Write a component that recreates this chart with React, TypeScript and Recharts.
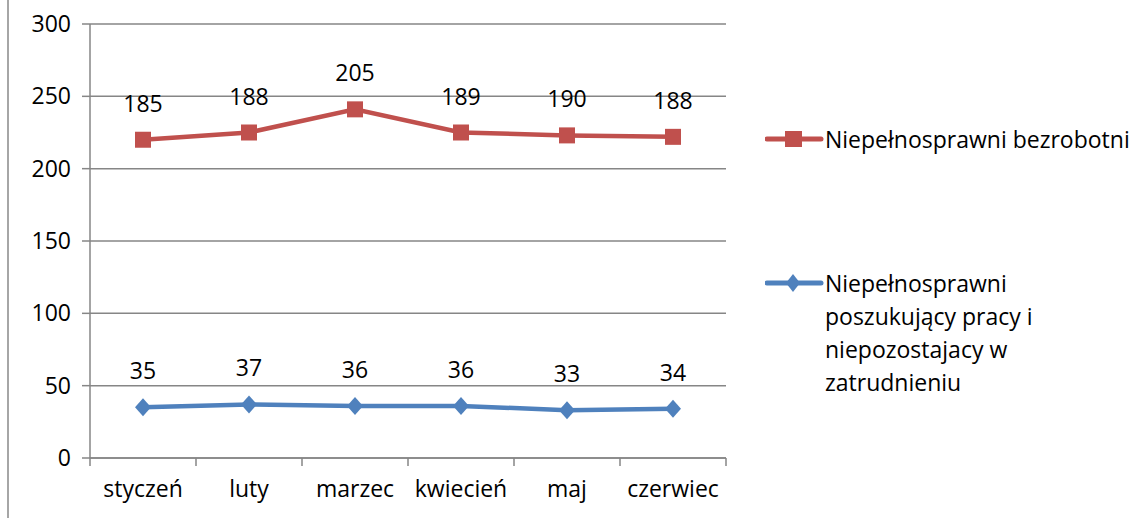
import React from 'react'
import { LineChart, Line, XAxis, YAxis, CartesianGrid, LabelList } from 'recharts'

const MONTHS = ['styczeń', 'luty', 'marzec', 'kwiecień', 'maj', 'czerwiec']
const BEZROBOTNI = [185, 188, 205, 189, 190, 188]
const POSZUKUJACY = [35, 37, 36, 36, 33, 34]
const Y_TICKS = [0, 50, 100, 150, 200, 250, 300]
const BOUNDARY_TICKS = [0, 1, 2, 3, 4, 5, 6]
const CENTER_TICKS = [0.5, 1.5, 2.5, 3.5, 4.5, 5.5]

const NAME_RED = 'Niepełnosprawni bezrobotni'
const BLUE_LINES = ['Niepełnosprawni', 'poszukujący pracy i', 'niepozostajacy w', 'zatrudnieniu']

const RED = '#C0504D'
const BLUE = '#4F81BD'
const GRID = '#868686'
const FONT = '"Open Sans", sans-serif'
const FS = 23

// stacked line chart: red series sits on top of the blue one
const data = MONTHS.map((m, i) => ({
  month: m,
  pos: i + 0.5,
  blue: POSZUKUJACY[i],
  red: BEZROBOTNI[i],
  redStacked: BEZROBOTNI[i] + POSZUKUJACY[i],
}))

const SquareDot = (props: any) => {
  const { cx, cy } = props
  if (cx == null || cy == null) return null
  return <rect x={cx - 8} y={cy - 8} width={16} height={16} fill={RED} />
}

const DiamondDot = (props: any) => {
  const { cx, cy } = props
  if (cx == null || cy == null) return null
  return <polygon points={`${cx},${cy - 9} ${cx + 8},${cy} ${cx},${cy + 9} ${cx - 8},${cy}`} fill={BLUE} />
}

const ValueLabel = (props: any) => {
  const { x, y, value } = props
  return (
    <text x={x} y={y - 37} textAnchor="middle" dominantBaseline="central" fontSize={FS} fontFamily={FONT} fill="#000">
      {value}
    </text>
  )
}

const LegendBox = () => (
  <div style={{ position: 'absolute', left: 765, top: 123, fontFamily: FONT, fontSize: FS, color: '#000' }}>
    <div style={{ position: 'absolute', left: 0, top: 0, display: 'flex', alignItems: 'center', height: 32 }}>
      <svg width={60} height={20} style={{ display: 'block' }}>
        <line x1={2} y1={10} x2={56} y2={10} stroke={RED} strokeWidth={5} strokeLinecap="round" />
        <rect x={20} y={2} width={17} height={16} fill={RED} />
      </svg>
      <span style={{ whiteSpace: 'nowrap' }}>{NAME_RED}</span>
    </div>
    <div style={{ position: 'absolute', left: 0, top: 144, display: 'flex', alignItems: 'flex-start' }}>
      <svg width={60} height={32} style={{ display: 'block' }}>
        <line x1={2} y1={16} x2={56} y2={16} stroke={BLUE} strokeWidth={5} strokeLinecap="round" />
        <polygon points="28,7 35,16 28,25 21,16" fill={BLUE} />
      </svg>
      <div style={{ lineHeight: '33px' }}>
        {BLUE_LINES.map((l) => (
          <div key={l} style={{ whiteSpace: 'nowrap', height: 33 }}>{l}</div>
        ))}
      </div>
    </div>
  </div>
)

export default function App() {
  return (
    <div style={{ position: 'absolute', left: 0, top: 0, width: 1138, height: 518, background: '#fff', overflow: 'hidden' }}>
      <div style={{ position: 'absolute', left: 7, top: 0, width: 2, height: 518, background: '#a6a6a6' }} />
      <LineChart width={1138} height={518} data={data} margin={{ top: 24, right: 412, left: 0, bottom: 0 }}>
        <CartesianGrid vertical={false} stroke={GRID} strokeWidth={1.5} />
        {/* month names centred in each slot (declared first -> drawn further from the plot) */}
        <XAxis
          xAxisId="b"
          dataKey="pos"
          type="number"
          domain={[0, 6]}
          ticks={CENTER_TICKS}
          interval={0}
          tickFormatter={(v: number) => MONTHS[Math.floor(v)]}
          axisLine={false}
          tickLine={false}
          tickMargin={16}
          tick={{ fontSize: FS, fontFamily: FONT, fill: '#000' }}
          height={59}
        />
        {/* boundary tick marks between months, right on the plot edge */}
        <XAxis
          xAxisId="a"
          dataKey="pos"
          type="number"
          domain={[0, 6]}
          ticks={BOUNDARY_TICKS}
          interval={0}
          tick={{ fontSize: 1, fill: 'transparent' }}
          tickFormatter={() => ' '}
          tickSize={8}
          stroke={GRID}
          strokeWidth={1.5}
          tickLine={{ stroke: GRID, strokeWidth: 1.5 }}
          height={1}
        />
        <YAxis
          domain={[0, 300]}
          ticks={Y_TICKS}
          width={90}
          tickSize={8}
          tickMargin={11}
          stroke={GRID}
          strokeWidth={1.5}
          tick={{ fontSize: FS, fontFamily: FONT, fill: '#000' }}
          interval={0}
        />
        <Line
          xAxisId="a"
          dataKey="redStacked"
          name={NAME_RED}
          stroke={RED}
          strokeWidth={4.5}
          dot={<SquareDot />}
          activeDot={false}
          isAnimationActive={false}
        >
          <LabelList dataKey="red" content={<ValueLabel />} />
        </Line>
        <Line
          xAxisId="a"
          dataKey="blue"
          stroke={BLUE}
          strokeWidth={4.5}
          dot={<DiamondDot />}
          activeDot={false}
          isAnimationActive={false}
        >
          <LabelList dataKey="blue" content={<ValueLabel />} />
        </Line>
      </LineChart>
      <LegendBox />
    </div>
  )
}
